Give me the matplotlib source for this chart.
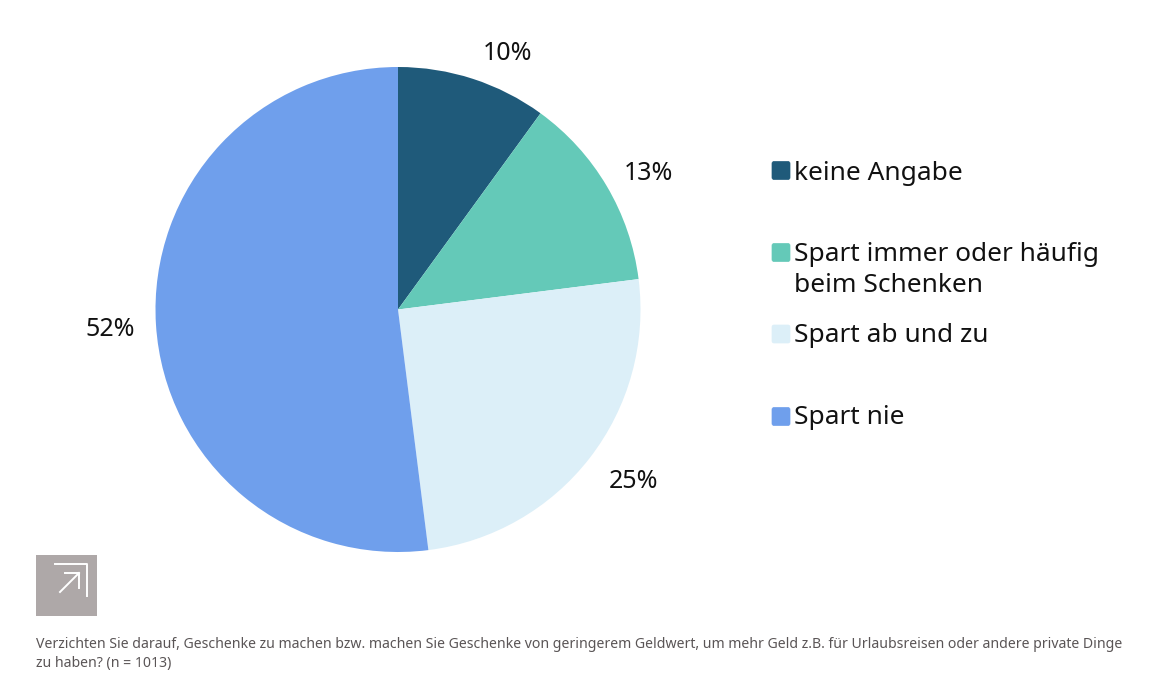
import matplotlib
matplotlib.use('Agg')
import matplotlib.pyplot as plt
from matplotlib.patches import FancyBboxPatch, Rectangle

# Werte im Uhrzeigersinn ab 12 Uhr
labels = ['keine Angabe', 'Spart immer oder häufig\nbeim Schenken', 'Spart ab und zu', 'Spart nie']
values = [10, 13, 25, 52]
value_labels = ['10%', '13%', '25%', '52%']
colors = ['#1f5a7a', '#64c9b8', '#dceff8', '#6f9fec']

W, H = 1164, 698
plt.rcParams['font.family'] = ['Noto Sans', 'DejaVu Sans']

fig = plt.figure(figsize=(W / 100, H / 100), dpi=100)
bg = fig.add_axes([0, 0, 1, 1])
bg.set_xlim(0, W)
bg.set_ylim(H, 0)
bg.axis('off')

# Kreis: Mitte ca. (398, 309.5), Radius ca. 242.5
cx, cy, r = 398, 309.5, 242.5
ax = fig.add_axes([(cx - r) / W, 1 - (cy + r) / H, 2 * r / W, 2 * r / H])
ax.pie(values, colors=colors, startangle=90, counterclock=False, radius=1)
ax.set_xlim(-1, 1)
ax.set_ylim(-1, 1)

for txt, x, y in zip(value_labels, [508, 648, 633, 110], [54, 173, 482, 330]):
    bg.text(x, y, txt, fontsize=18, color='#111111', ha='center', va='center')

for lab, c, y_box, y_txt in zip(labels, colors, [170.5, 252.5, 334, 416.5], [173, 270, 336, 418]):
    bg.add_patch(FancyBboxPatch((772, y_box - 9), 18, 18, boxstyle='round,pad=0,rounding_size=2',
                                fc=c, ec=c, lw=0.5))
    bg.text(794, y_txt, lab, fontsize=18.9, color='#111111', ha='left', va='center', linespacing=1.32)

# Pfeil-Symbol
bg.add_patch(Rectangle((36, 555), 61, 61, fc='#aea8a8', ec='none'))
bg.plot([55, 87, 87], [564, 564, 596], color='white', lw=1.4)
bg.plot([65, 79, 79], [573, 573, 588], color='white', lw=1.4)
bg.plot([60, 79], [592, 573], color='white', lw=1.4)

bg.text(36, 644, 'Verzichten Sie darauf, Geschenke zu machen bzw. machen Sie Geschenke von geringerem Geldwert, '
        'um mehr Geld z.B. für Urlaubsreisen oder andere private Dinge', fontsize=10.15, color='#5a5556', va='center')
bg.text(36, 664, 'zu haben? (n = 1013)', fontsize=10.15, color='#5a5556', va='center')

fig.savefig('out.png', dpi=100, facecolor='white')
